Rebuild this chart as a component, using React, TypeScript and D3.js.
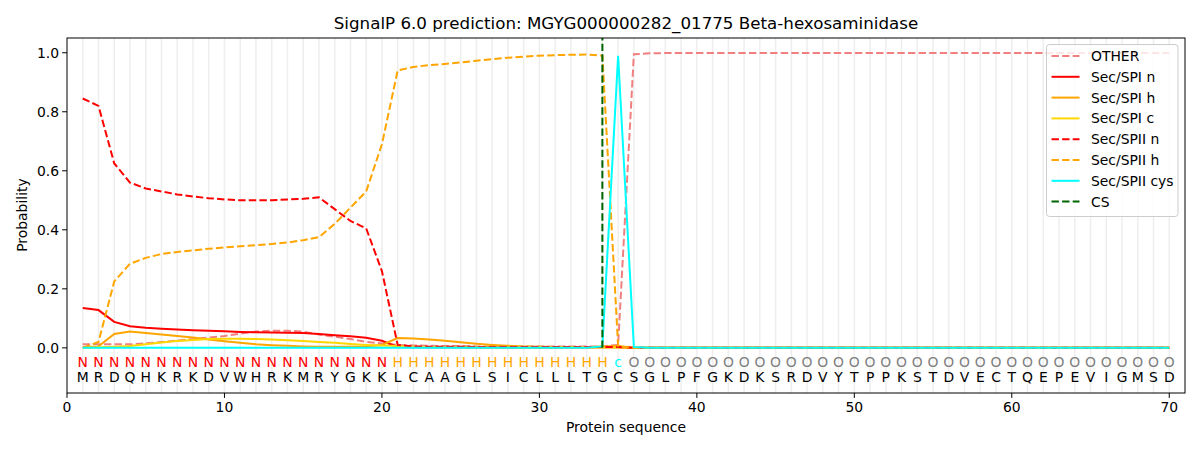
import React, { useEffect } from "react";
import * as d3 from "d3";

const sequence = "MRDQHKRKDVWHRKMRYGKKLCAAGLSICLLLTGCSGLPFGKDKSRDVYTPPKSTDVECTQEPEVIGMSD".split("");
const regions = "NNNNNNNNNNNNNNNNNNNNHHHHHHHHHHHHHHcOOOOOOOOOOOOOOOOOOOOOOOOOOOOOOOOOOO".split("");

const zeros = (n: number) => new Array(n).fill(0);

const other = [
  0.012, 0.012, 0.012, 0.012, 0.015, 0.02, 0.025, 0.03, 0.035, 0.04,
  0.048, 0.055, 0.058, 0.058, 0.055, 0.045, 0.038, 0.03, 0.02, 0.015,
  0.01, 0.008, 0.007, 0.006, 0.006, 0.005, 0.005, 0.005, 0.005, 0.005,
  0.005, 0.005, 0.005, 0.005, 0.01, 0.995, 0.998, 0.999, 0.999, 0.999,
  ...new Array(30).fill(0.999),
];
const spiN = [
  0.135, 0.128, 0.088, 0.073, 0.068, 0.065, 0.062, 0.06, 0.058, 0.056,
  0.054, 0.053, 0.052, 0.051, 0.05, 0.047, 0.043, 0.039, 0.034, 0.024,
  0.003, 0.002, 0.002, 0.002, 0.002, 0.001, 0.001, 0.001, 0.001, 0.001,
  0.001, 0.001, 0.001, 0.002, 0.002, ...zeros(35),
];
const spiH = [
  0.003, 0.005, 0.047, 0.055, 0.05, 0.045, 0.04, 0.035, 0.028, 0.022,
  0.017, 0.012, 0.009, 0.007, 0.005, 0.004, 0.004, 0.004, 0.005, 0.01,
  0.033, 0.032, 0.028, 0.024, 0.019, 0.014, 0.01, 0.007, 0.005, 0.004,
  0.003, 0.003, 0.002, 0.005, 0.006, ...zeros(35),
];
const spiC = [
  0.0, 0.002, 0.004, 0.006, 0.012, 0.018, 0.023, 0.027, 0.03, 0.031,
  0.031, 0.03, 0.028, 0.026, 0.023, 0.02, 0.017, 0.013, 0.01, 0.008,
  0.006, 0.004, 0.003, 0.002, 0.002, 0.001, 0.001, 0.001, 0.001, 0.001,
  0.001, 0.001, 0.001, 0.001, 0.001, ...zeros(35),
];
const spiiN = [
  0.845, 0.82, 0.625, 0.56, 0.54, 0.53, 0.52, 0.513, 0.507, 0.503,
  0.5, 0.5, 0.5, 0.503, 0.505, 0.51, 0.47, 0.43, 0.405, 0.26,
  0.01, 0.005, 0.004, 0.004, 0.004, 0.003, 0.003, 0.003, 0.003, 0.003,
  0.003, 0.003, 0.003, 0.003, 0.003, ...zeros(35),
];
const spiiH = [
  0.0, 0.02, 0.225, 0.285, 0.305, 0.318, 0.325, 0.33, 0.336, 0.34,
  0.344, 0.348, 0.352, 0.357, 0.365, 0.375, 0.42, 0.475, 0.53, 0.69,
  0.94, 0.952, 0.958, 0.962, 0.967, 0.973, 0.978, 0.983, 0.987, 0.99,
  0.992, 0.993, 0.994, 0.99, 0.005, ...zeros(35),
];
const spiiCys = [...zeros(33), 0.005, 0.99, 0.003, ...zeros(34)];

const csPosition = 34;

const series = [
  { name: "OTHER", values: other, color: "#f08080", dashed: true },
  { name: "Sec/SPI n", values: spiN, color: "#ff0000", dashed: false },
  { name: "Sec/SPI h", values: spiH, color: "#ffa500", dashed: false },
  { name: "Sec/SPI c", values: spiC, color: "#ffd700", dashed: false },
  { name: "Sec/SPII n", values: spiiN, color: "#ff0000", dashed: true },
  { name: "Sec/SPII h", values: spiiH, color: "#ffa500", dashed: true },
  { name: "Sec/SPII cys", values: spiiCys, color: "#00ffff", dashed: false },
];

const regionColor: Record<string, string> = { N: "#ff0000", H: "#ffa500", c: "#00ffff", O: "#808080" };

const width = 1200;
const height = 450;
const margin = { left: 67, right: 15, top: 38, bottom: 57 };
const font = "DejaVu Sans, sans-serif";

export default function App() {
  useEffect(() => {
    document.body.style.margin = "0";
  }, []);

  const x = d3.scaleLinear().domain([0, 71]).range([margin.left, width - margin.right]);
  const y = d3.scaleLinear().domain([-0.153, 1.05]).range([height - margin.bottom, margin.top]);
  const line = d3
    .line<number>()
    .x((_, i) => x(i + 1))
    .y((d) => y(d));

  const dash = "7.4,3.2";
  const xTicks = d3.range(0, 71, 10);
  const yTicks = d3.range(0, 1.01, 0.2);
  const positions = d3.range(1, 71);

  const legendItems = [
    ...series.map((s) => ({ name: s.name, color: s.color, dashed: s.dashed })),
    { name: "CS", color: "#006400", dashed: true },
  ];

  return (
    <svg width={width} height={height} style={{ display: "block", fontFamily: font }}>
      <rect width={width} height={height} fill="#fff" />
      <text x={(x(0) + x(71)) / 2} y={29} textAnchor="middle" fontSize={16.7} fill="#000">
        SignalP 6.0 prediction: MGYG000000282_01775 Beta-hexosaminidase
      </text>
      {positions.map((p) => (
        <line key={p} x1={x(p)} x2={x(p)} y1={y(1.05)} y2={y(-0.153)} stroke="#e8e8e8" strokeWidth={1.5} opacity={0.7} />
      ))}
      {series.map((s) => (
        <path
          key={s.name}
          d={line(s.values) || ""}
          fill="none"
          stroke={s.color}
          strokeWidth={2}
          strokeDasharray={s.dashed ? dash : undefined}
        />
      ))}
      <line x1={x(csPosition)} x2={x(csPosition)} y1={y(0)} y2={y(1.05)} stroke="#006400" strokeWidth={2} strokeDasharray={dash} />
      {positions.map((p, i) => (
        <g key={p}>
          <text x={x(p)} y={y(-0.047) + 5} textAnchor="middle" fontSize={13.9} fill={regionColor[regions[i]]}>
            {regions[i]}
          </text>
          <text x={x(p)} y={y(-0.1) + 5} textAnchor="middle" fontSize={13.9} fill="#000">
            {sequence[i]}
          </text>
        </g>
      ))}
      <rect
        x={margin.left}
        y={margin.top}
        width={width - margin.left - margin.right}
        height={height - margin.top - margin.bottom}
        fill="none"
        stroke="#000"
        strokeWidth={1}
      />
      {xTicks.map((t) => (
        <g key={t}>
          <line x1={x(t)} x2={x(t)} y1={y(-0.153)} y2={y(-0.153) + 4.9} stroke="#000" />
          <text x={x(t)} y={y(-0.153) + 19} textAnchor="middle" fontSize={13.9}>
            {t}
          </text>
        </g>
      ))}
      {yTicks.map((t) => (
        <g key={t}>
          <line x1={margin.left - 4.9} x2={margin.left} y1={y(t)} y2={y(t)} stroke="#000" />
          <text x={margin.left - 8} y={y(t) + 5} textAnchor="end" fontSize={13.9}>
            {t.toFixed(1)}
          </text>
        </g>
      ))}
      <text x={(x(0) + x(71)) / 2} y={432} textAnchor="middle" fontSize={13.9}>
        Protein sequence
      </text>
      <text transform={`translate(27,${y(0.45)}) rotate(-90)`} textAnchor="middle" fontSize={13.9}>
        Probability
      </text>
      <g transform="translate(1046.5,44.5)">
        <rect width={131.5} height={172} rx={3} fill="#fff" fillOpacity={0.8} stroke="#cccccc" />
        {legendItems.map((item, i) => (
          <g key={item.name} transform={`translate(0,${11.5 + i * 20.8})`}>
            <line
              x1={5}
              x2={33}
              y1={0}
              y2={0}
              stroke={item.color}
              strokeWidth={2}
              strokeDasharray={item.dashed ? dash : undefined}
            />
            <text x={44.5} y={5} fontSize={13.9} fill="#000">
              {item.name}
            </text>
          </g>
        ))}
      </g>
    </svg>
  );
}
